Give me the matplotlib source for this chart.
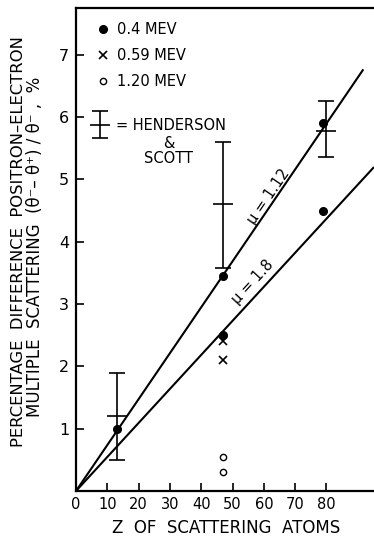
import numpy as np
import matplotlib
matplotlib.use("Agg")
import matplotlib.pyplot as plt
from matplotlib.legend_handler import HandlerErrorbar

# ---- data ----
z_04 = [13, 47, 47, 79, 79]
y_04 = [1.0, 3.45, 2.5, 5.9, 4.5]
z_059 = [47, 47]
y_059 = [2.4, 2.1]
z_120 = [47, 47]
y_120 = [0.55, 0.3]
# Henderson & Scott
z_hs = [13, 47, 80]
y_hs = [1.2, 4.6, 5.78]
y_hs_lo = [0.5, 3.58, 5.36]
y_hs_hi = [1.9, 5.6, 6.26]
# fitted lines through origin
line_labels = ["\u03bc = 1.12", "\u03bc = 1.8"]
line_z_end = [91.8, 95.2]
line_slope = [0.0737, 0.0546]
line_label_z = [63.3, 59.1]
line_label_off = [5.0, 8.0]

xticks = [0, 10, 20, 30, 40, 50, 60, 70, 80]
yticks = [1, 2, 3, 4, 5, 6, 7]

plt.rcParams['font.family'] = ['DejaVu Sans']

W, H = 374, 537
fig = plt.figure(figsize=(W / 100, H / 100), dpi=100)
ax = fig.add_axes([76 / W, 1 - 491 / H, (374 - 76) / W, (491 - 8) / H])
ax.set_xlim(0, 95.2)
ax.set_ylim(0, 7.75)

for s in ['left', 'bottom', 'top']:
    ax.spines[s].set_linewidth(1.6)
ax.spines['right'].set_visible(False)

ax.set_xticks(xticks)
ax.set_yticks(yticks)
ax.tick_params(direction='in', length=6, width=1.2, labelsize=10.5)
ax.tick_params(axis='x', pad=4)
ax.tick_params(axis='y', pad=5, labelsize=11.5)

# lines
for zend, k, lab, lz, off in zip(line_z_end, line_slope, line_labels, line_label_z, line_label_off):
    ax.plot([0, zend], [0, k * zend], color='black', lw=1.5, solid_capstyle='butt')
    p0 = ax.transData.transform((0, 0))
    p1 = ax.transData.transform((zend, k * zend))
    ang = np.degrees(np.arctan2(p1[1] - p0[1], p1[0] - p0[0]))
    ax.annotate(lab, xy=(lz, k * lz),
                xytext=(-off * np.sin(np.radians(ang)), off * np.cos(np.radians(ang))),
                textcoords='offset points', rotation=ang, rotation_mode='anchor',
                ha='center', va='center', fontsize=10.5)

# data points
h1, = ax.plot(z_04, y_04, 'o', color='black', ms=5.5, ls='none', label='0.4 MEV')
h2, = ax.plot(z_059, y_059, 'x', color='black', ms=5.5, mew=1.2, ls='none', label='0.59 MEV')
h3, = ax.plot(z_120, y_120, 'o', mfc='white', mec='black', ms=4.5, mew=1.0, ls='none', label='1.20 MEV')

yerr = [np.array(y_hs) - np.array(y_hs_lo), np.array(y_hs_hi) - np.array(y_hs)]
eb = ax.errorbar(z_hs, y_hs, yerr=yerr, fmt='_', color='black', ms=15, mew=1.2,
                 elinewidth=1.2, capsize=6, capthick=1.2, label='= HENDERSON')

leg1 = ax.legend(handles=[h1, h2, h3], loc='upper left', bbox_to_anchor=(0.072, 0.97),
                 frameon=False, fontsize=10.5, handlelength=0.8, handletextpad=0.55,
                 labelspacing=0.75, borderpad=0, borderaxespad=0)
ax.add_artist(leg1)
leg2 = ax.legend(handles=[eb], loc='upper left', bbox_to_anchor=(0.05, 0.773),
                 frameon=False, fontsize=10.5, handlelength=1.3, handletextpad=0.45,
                 borderpad=0, borderaxespad=0,
                 handler_map={type(eb): HandlerErrorbar(xerr_size=0.5, yerr_size=0.9)})
ax.text(0.31, 0.735, "&\nSCOTT", transform=ax.transAxes, ha='center', va='top',
        fontsize=10.5, linespacing=1.0)

fig.text(226 / W, 1 - 528 / H, "Z  OF  SCATTERING  ATOMS", ha='center', va='center', fontsize=12)
fig.text(19 / W, 1 - 242 / H, "PERCENTAGE  DIFFERENCE  POSITRON\u2013ELECTRON",
         rotation=90, ha='center', va='center', fontsize=11.8)
fig.text(35 / W, 1 - 247 / H, "MULTIPLE  SCATTERING  (\u03b8\u207b\u2013 \u03b8\u207a) / \u03b8\u207b ,  %",
         rotation=90, ha='center', va='center', fontsize=12)

fig.savefig("out.png", dpi=100)
